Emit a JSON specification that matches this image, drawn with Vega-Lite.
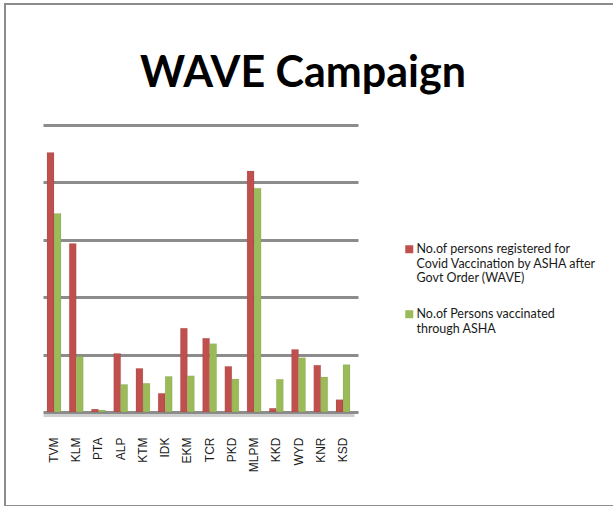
{"$schema":"https://vega.github.io/schema/vega-lite/v6.json","width":640,"height":502,"autosize":{"type":"none"},"padding":{"left":5,"top":4,"right":0,"bottom":0},"background":"white","config":{"view":{"stroke":"#8c8c8c","strokeWidth":2}},"title":{"text":"WAVE Campaign","font":"Lato","fontWeight":"bold","fontSize":43,"color":"#000000","anchor":"start","frame":"group","dx":135,"offset":-92,"orient":"top"},"data":{"values":[{"d":"TVM","s":"A","v":90.4},{"d":"TVM","s":"B","v":69.2},{"d":"KLM","s":"A","v":58.7},{"d":"KLM","s":"B","v":19.4},{"d":"PTA","s":"A","v":1},{"d":"PTA","s":"B","v":0.7},{"d":"ALP","s":"A","v":20.4},{"d":"ALP","s":"B","v":9.6},{"d":"KTM","s":"A","v":15.2},{"d":"KTM","s":"B","v":10},{"d":"IDK","s":"A","v":6.5},{"d":"IDK","s":"B","v":12.4},{"d":"EKM","s":"A","v":29.2},{"d":"EKM","s":"B","v":12.6},{"d":"TCR","s":"A","v":25.7},{"d":"TCR","s":"B","v":23.8},{"d":"PKD","s":"A","v":15.9},{"d":"PKD","s":"B","v":11.5},{"d":"MLPM","s":"A","v":84},{"d":"MLPM","s":"B","v":78},{"d":"KKD","s":"A","v":1.3},{"d":"KKD","s":"B","v":11.4},{"d":"WYD","s":"A","v":21.8},{"d":"WYD","s":"B","v":18.9},{"d":"KNR","s":"A","v":16.3},{"d":"KNR","s":"B","v":12.2},{"d":"KSD","s":"A","v":4.3},{"d":"KSD","s":"B","v":16.5}]},"mark":{"type":"bar","stroke":"#00000022","strokeWidth":0.5},"encoding":{"x":{"field":"d","type":"nominal","sort":["TVM","KLM","PTA","ALP","KTM","IDK","EKM","TCR","PKD","MLPM","KKD","WYD","KNR","KSD"],"title":null,"scale":{"range":[38,349],"paddingInner":0.37,"paddingOuter":0.18},"axis":{"orient":"bottom","offset":-91,"domainColor":"#cfcfcf","domainWidth":3,"ticks":false,"labelAngle":-90,"labelAlign":"right","labelBaseline":"middle","labelPadding":22,"labelFont":"Liberation Sans","labelFontSize":12,"labelColor":"#1a1a1a","grid":false}},"xOffset":{"field":"s","type":"nominal"},"y":{"field":"v","type":"quantitative","title":null,"scale":{"domain":[0,100],"range":[408,121],"nice":false},"axis":{"orient":"left","offset":-353,"values":[0,20,40,60,80,100],"labels":false,"domain":false,"grid":false,"tickColor":"#8c8c8c","tickWidth":3,"tickSize":315}},"color":{"field":"s","type":"nominal","scale":{"domain":["A","B"],"range":["#C0504D","#9BBB59"]},"legend":{"orient":"none","legendX":398,"legendY":239,"title":null,"symbolType":"square","symbolSize":64,"symbolStrokeWidth":0,"labelFont":"Lato","labelFontSize":12.5,"labelColor":"#1a1a1a","labelLimit":220,"labelOffset":1,"rowPadding":23,"labelExpr":"datum.value=='A'?['No.of persons  registered  for','Covid Vaccination by  ASHA after','Govt Order (WAVE)']:['No.of Persons vaccinated','through ASHA']"}}}}
